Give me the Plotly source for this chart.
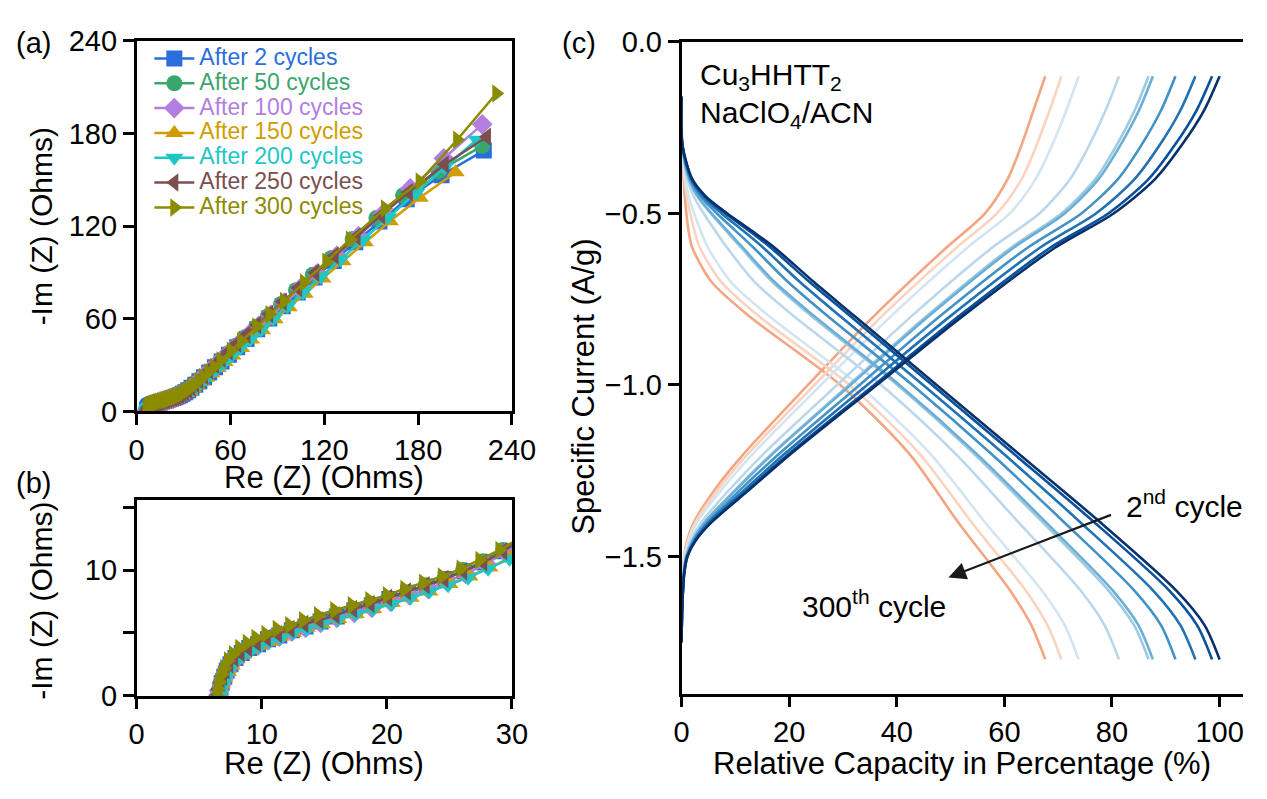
import plotly.graph_objects as go

W, H = 1267, 799
FONT = "Liberation Sans, Arial, sans-serif"

# ---------------- Panels (a)/(b): Nyquist data ----------------
series_names = ["After 2 cycles", "After 50 cycles", "After 100 cycles", "After 150 cycles",
                "After 200 cycles", "After 250 cycles", "After 300 cycles"]
series_colors = ["#2a6edc", "#3ba56e", "#b27ee0", "#cf9d00", "#1ec6c6", "#7b4f4f", "#8b8b00"]
series_symbols = ["square", "circle", "diamond", "triangle-up", "triangle-down", "triangle-left", "triangle-right"]

re_c2 = [6.6, 6.7, 6.8, 7.0, 7.2, 7.5, 7.9, 8.4, 9.0, 9.7, 10.5, 11.4, 12.4, 13.5, 14.7, 16.0, 17.4, 18.8, 20.2, 21.7,
         23.2, 24.7, 26.2, 27.8, 29.4, 31.1, 33.0, 35.1, 37.5, 40.1, 43.1, 46.4, 50.1, 54.3, 59.0, 64.3, 70.3, 77.1, 84.8, 93.4,
         103.0, 113.8, 126.0, 139.8, 155.3, 172.7, 195.0, 222.0]
im_c2 = [0.0, 0.5, 1.0, 1.5, 2.0, 2.5, 3.0, 3.4, 3.8, 4.1, 4.5, 4.8, 5.2, 5.5, 5.9, 6.3, 6.8, 7.2, 7.7, 8.2,
         8.7, 9.3, 9.9, 10.6, 11.5, 12.5, 13.8, 15.4, 17.4, 19.6, 22.2, 25.2, 28.6, 32.4, 36.8, 41.6, 47.0, 53.3, 60.3, 68.2,
         77.0, 86.8, 97.5, 109.6, 123.0, 137.5, 153.0, 169.0]

re_c50 = [6.5, 6.6, 6.7, 6.9, 7.1, 7.4, 7.8, 8.3, 8.9, 9.6, 10.4, 11.3, 12.3, 13.4, 14.6, 15.9, 17.3, 18.7, 20.1, 21.6,
          23.1, 24.6, 26.1, 27.7, 29.3, 31.0, 32.9, 35.0, 37.3, 39.9, 42.8, 46.1, 49.8, 53.9, 58.5, 63.7, 69.6, 76.3, 83.9, 92.4,
          101.9, 112.6, 124.6, 138.1, 153.3, 170.4, 193.0, 221.0]
im_c50 = [0.0, 0.5, 1.0, 1.5, 2.0, 2.5, 3.0, 3.4, 3.8, 4.2, 4.5, 4.9, 5.2, 5.6, 6.0, 6.4, 6.8, 7.3, 7.7, 8.2,
          8.8, 9.3, 10.0, 10.7, 11.6, 12.7, 14.0, 15.7, 17.7, 20.0, 22.7, 25.8, 29.3, 33.2, 37.7, 42.7, 48.3, 54.6, 61.7, 69.7,
          78.6, 88.5, 99.5, 111.7, 125.3, 140.0, 155.5, 172.0]

re_c100 = [6.5, 6.6, 6.8, 7.0, 7.2, 7.5, 7.9, 8.4, 9.0, 9.7, 10.5, 11.4, 12.4, 13.5, 14.7, 16.0, 17.4, 18.8, 20.3, 21.8,
           23.3, 24.8, 26.3, 27.9, 29.5, 31.2, 33.1, 35.2, 37.6, 40.3, 43.3, 46.7, 50.5, 54.8, 59.6, 65.0, 71.1, 78.0, 85.8, 94.6,
           104.5, 115.6, 128.0, 141.9, 157.5, 175.0, 196.5, 221.0]
im_c100 = [0.0, 0.4, 0.9, 1.4, 1.9, 2.4, 2.9, 3.3, 3.7, 4.0, 4.4, 4.7, 5.1, 5.4, 5.8, 6.2, 6.6, 7.0, 7.5, 8.0,
           8.5, 9.1, 9.7, 10.5, 11.4, 12.5, 13.9, 15.7, 17.9, 20.4, 23.2, 26.4, 30.0, 34.0, 38.5, 43.5, 49.1, 55.4, 62.5, 70.5,
           79.5, 89.5, 100.8, 113.5, 128.0, 144.5, 164.0, 186.0]

re_c150 = [6.5, 6.6, 6.8, 7.0, 7.3, 7.6, 8.0, 8.5, 9.1, 9.8, 10.6, 11.5, 12.5, 13.6, 14.8, 16.1, 17.5, 18.9, 20.4, 21.9,
           23.4, 25.0, 26.6, 28.2, 29.9, 31.7, 33.7, 35.9, 38.4, 41.2, 44.3, 47.8, 51.8, 56.2, 61.2, 66.8, 73.1, 80.2, 88.2, 97.2,
           107.4, 118.8, 131.6, 145.9, 161.9, 181.0, 204.0]
im_c150 = [0.0, 0.4, 0.9, 1.4, 1.9, 2.4, 2.9, 3.3, 3.7, 4.0, 4.3, 4.7, 5.0, 5.4, 5.7, 6.1, 6.5, 6.9, 7.4, 7.8,
           8.3, 8.9, 9.5, 10.2, 11.0, 12.0, 13.3, 14.9, 16.9, 19.2, 21.8, 24.8, 28.2, 32.0, 36.3, 41.1, 46.6, 52.7, 59.7, 67.5,
           76.3, 86.2, 97.3, 109.6, 123.2, 138.5, 155.0]

re_c200 = [6.6, 6.7, 6.9, 7.1, 7.3, 7.6, 8.0, 8.5, 9.1, 9.8, 10.6, 11.5, 12.5, 13.6, 14.8, 16.1, 17.5, 18.9, 20.4, 21.9,
           23.4, 24.9, 26.5, 28.1, 29.8, 31.6, 33.6, 35.8, 38.3, 41.1, 44.2, 47.7, 51.6, 56.0, 60.9, 66.4, 72.6, 79.6, 87.5, 96.4,
           106.4, 117.7, 130.4, 144.7, 160.7, 178.7, 197.0, 217.5]
im_c200 = [0.0, 0.4, 0.9, 1.4, 1.9, 2.4, 2.8, 3.2, 3.6, 3.9, 4.3, 4.6, 5.0, 5.3, 5.7, 6.1, 6.5, 6.9, 7.3, 7.8,
           8.3, 8.8, 9.4, 10.1, 10.9, 11.9, 13.1, 14.7, 16.6, 18.9, 21.5, 24.5, 27.9, 31.8, 36.2, 41.1, 46.7, 53.0, 60.1, 68.1,
           77.1, 87.2, 98.5, 111.3, 125.8, 141.5, 158.0, 176.0]

re_c250 = [6.4, 6.5, 6.7, 6.9, 7.1, 7.4, 7.8, 8.3, 8.9, 9.6, 10.4, 11.3, 12.3, 13.4, 14.6, 15.9, 17.3, 18.7, 20.1, 21.6,
           23.1, 24.6, 26.1, 27.7, 29.3, 31.0, 32.9, 35.0, 37.4, 40.0, 43.0, 46.3, 50.0, 54.2, 58.9, 64.2, 70.2, 77.0, 84.7, 93.4,
           103.2, 114.2, 126.6, 140.6, 156.3, 174.0, 197.0, 224.0]
im_c250 = [0.0, 0.5, 1.0, 1.5, 2.0, 2.5, 3.0, 3.4, 3.8, 4.2, 4.6, 4.9, 5.3, 5.7, 6.0, 6.4, 6.9, 7.3, 7.8, 8.3,
           8.8, 9.3, 9.9, 10.6, 11.5, 12.6, 13.9, 15.7, 17.8, 20.3, 23.2, 26.5, 30.2, 34.3, 38.9, 44.0, 49.7, 56.1, 63.2, 71.1,
           80.0, 89.9, 100.9, 113.2, 127.0, 142.0, 160.0, 178.0]

re_c300 = [6.4, 6.5, 6.6, 6.8, 7.0, 7.3, 7.7, 8.2, 8.8, 9.5, 10.3, 11.2, 12.2, 13.3, 14.5, 15.8, 17.2, 18.6, 20.0, 21.4,
           22.9, 24.4, 25.9, 27.4, 29.0, 30.7, 32.6, 34.7, 37.0, 39.6, 42.5, 45.8, 49.4, 53.6, 60.2, 66.8, 76.5, 85.0, 94.2, 107.0,
           121.3, 136.4, 158.8, 181.0, 205.0, 230.0]
im_c300 = [0.0, 0.5, 1.1, 1.7, 2.2, 2.8, 3.3, 3.8, 4.2, 4.6, 4.9, 5.3, 5.6, 6.0, 6.4, 6.8, 7.2, 7.6, 8.0, 8.5,
           9.0, 9.5, 10.1, 10.8, 11.6, 12.6, 13.9, 15.5, 17.4, 19.7, 22.4, 25.5, 28.9, 33.0, 39.4, 45.7, 55.0, 63.0, 71.6, 83.5,
           97.0, 111.3, 131.5, 149.0, 176.0, 206.0]

nyq_re = [re_c2, re_c50, re_c100, re_c150, re_c200, re_c250, re_c300]
nyq_im = [im_c2, im_c50, im_c100, im_c150, im_c200, im_c250, im_c300]
for a_, b_ in zip(nyq_re, nyq_im):
    assert len(a_) == len(b_), (len(a_), len(b_))

# ---------------- Panel (c): capacity curves ----------------
curve_colors = ["#08306b", "#08519c", "#2171b5", "#4292c6", "#6baed6", "#9ecae1",
                "#bcd7ec", "#d4e5f2", "#fbd3c0", "#f4a582"]

dis_v = [-0.16, -0.3, -0.4, -0.45, -0.5, -0.55, -0.6, -0.7, -0.8, -1.0, -1.2, -1.4, -1.6, -1.7, -1.8]
dis_c01 = [0, 0.15, 2.0, 4.5, 8.5, 13.0, 17.3, 24.6, 32.2, 47.4, 62.6, 77.8, 92.0, 97.2, 100]
dis_c02 = [0, 0.15, 1.93, 4.33, 8.17, 12.5, 16.6, 23.8, 31.4, 46.6, 61.7, 76.7, 90.7, 95.8, 98.6]
dis_c03 = [0, 0.14, 1.78, 3.96, 7.44, 11.4, 15.2, 22.0, 29.5, 44.9, 59.8, 74.1, 87.7, 92.7, 95.5]
dis_c04 = [0, 0.14, 1.6, 3.51, 6.58, 10.0, 13.4, 19.8, 27.2, 42.9, 57.5, 71.1, 84.2, 89.1, 91.8]
dis_c05 = [0, 0.13, 1.39, 3.01, 5.59, 8.5, 11.4, 17.3, 24.7, 40.5, 54.8, 67.7, 80.2, 84.9, 87.6]
dis_c06 = [0, 0.13, 1.35, 2.91, 5.41, 8.24, 11.07, 16.9, 24.2, 40.1, 54.3, 67.1, 79.4, 84.1, 86.8]
dis_c07 = [0, 0.12, 1.08, 2.25, 4.11, 6.25, 8.47, 13.6, 20.9, 37.1, 50.9, 62.6, 74.2, 78.6, 81.3]
dis_c08 = [0, 0.11, 0.71, 1.34, 2.35, 3.53, 4.92, 9.2, 16.3, 32.9, 46.2, 56.4, 67.0, 71.2, 73.8]
dis_c09 = [0, 0.1, 0.55, 0.96, 1.61, 2.39, 3.42, 7.4, 14.4, 31.2, 44.2, 53.9, 64.0, 68.0, 70.6]
dis_c10 = [0, 0.1, 0.4, 0.6, 0.9, 1.3, 2.0, 5.6, 12.6, 29.5, 42.3, 51.4, 61.1, 65.0, 67.6]

chg_v = [-1.75, -1.65, -1.55, -1.5, -1.45, -1.4, -1.3, -1.2, -1.0, -0.8, -0.6, -0.5, -0.4, -0.3, -0.2, -0.1]
chg_c01 = [0, 0.12, 0.5, 1.1, 2.8, 5.6, 13.0, 20.4, 36.3, 52.2, 69.4, 80.3, 88.0, 93.0, 97.1, 100]
chg_c02 = [0, 0.12, 0.49, 1.07, 2.7, 5.5, 12.7, 20.0, 35.8, 51.5, 68.5, 79.3, 86.8, 91.7, 95.7, 98.6]
chg_c03 = [0, 0.12, 0.47, 1.02, 2.56, 5.1, 12.1, 19.2, 34.5, 49.9, 66.6, 77.0, 84.2, 88.9, 92.7, 95.5]
chg_c04 = [0, 0.11, 0.44, 0.95, 2.37, 4.8, 11.3, 18.2, 33.1, 48.0, 64.3, 74.3, 81.1, 85.5, 89.1, 91.8]
chg_c05 = [0, 0.11, 0.42, 0.87, 2.15, 4.3, 10.5, 17.0, 31.4, 45.9, 61.7, 71.2, 77.5, 81.6, 85.0, 87.6]
chg_c06 = [0, 0.11, 0.41, 0.86, 2.11, 4.3, 10.3, 16.8, 31.1, 45.5, 61.2, 70.6, 76.9, 80.9, 84.2, 86.8]
chg_c07 = [0, 0.1, 0.37, 0.75, 1.82, 3.7, 9.2, 15.3, 28.9, 42.7, 57.7, 66.5, 72.2, 75.8, 78.8, 81.3]
chg_c08 = [0, 0.1, 0.32, 0.61, 1.42, 2.9, 7.7, 13.3, 25.9, 38.9, 53.1, 61.0, 65.8, 68.9, 71.5, 73.8]
chg_c09 = [0, 0.09, 0.3, 0.56, 1.26, 2.6, 7.0, 12.4, 24.7, 37.2, 51.1, 58.6, 63.2, 66.0, 68.4, 70.6]
chg_c10 = [0, 0.09, 0.28, 0.5, 1.1, 2.3, 6.4, 11.6, 23.5, 35.7, 49.2, 56.4, 60.6, 63.2, 65.4, 67.6]

dis_all = [dis_c01, dis_c02, dis_c03, dis_c04, dis_c05, dis_c06, dis_c07, dis_c08, dis_c09, dis_c10]
chg_all = [chg_c01, chg_c02, chg_c03, chg_c04, chg_c05, chg_c06, chg_c07, chg_c08, chg_c09, chg_c10]
for d_ in dis_all:
    assert len(d_) == len(dis_v)
for c_ in chg_all:
    assert len(c_) == len(chg_v)

# tick labels
a_ticks = [0, 60, 120, 180, 240]
b_xticks = [0, 10, 20, 30]
b_yticks = [0, 5, 10, 15]
b_yticktext = ["0", "", "10", ""]
c_xticks = [0, 20, 40, 60, 80, 100]
c_yticks = [0.0, -0.5, -1.0, -1.5]

fig = go.Figure()

MS = 16
for i in range(7):
    name = '<span style="color:%s;font-size:23px">%s</span>' % (series_colors[i], series_names[i])
    common = dict(mode="lines+markers",
                  line=dict(color=series_colors[i], width=2.5),
                  marker=dict(symbol=series_symbols[i], size=MS, color=series_colors[i]))
    fig.add_trace(go.Scatter(x=nyq_re[i], y=nyq_im[i], name=name, xaxis="x", yaxis="y",
                             showlegend=True, **common))
for i in range(7):
    common = dict(mode="lines+markers",
                  line=dict(color=series_colors[i], width=2.5),
                  marker=dict(symbol=series_symbols[i], size=MS, color=series_colors[i]))
    fig.add_trace(go.Scatter(x=nyq_re[i], y=nyq_im[i], xaxis="x2", yaxis="y2",
                             showlegend=False, **common))

for i in reversed(range(10)):
    for xs, vs in ((dis_all[i], dis_v), (chg_all[i], chg_v)):
        fig.add_trace(go.Scatter(x=xs, y=vs, mode="lines", xaxis="x3", yaxis="y3", showlegend=False,
                                 line=dict(color=curve_colors[i], width=2.6, shape="spline", smoothing=0.8)))

def px_x(p):
    return p / W

def px_y(p):
    return 1 - p / H

axis_common = dict(showline=True, linecolor="black", linewidth=2.5, ticks="outside", ticklen=11,
                   tickwidth=2.5, tickcolor="black", showgrid=False, zeroline=False,
                   tickfont=dict(size=29, color="black", family=FONT))

fig.update_layout(
    width=W, height=H, margin=dict(l=0, r=0, t=0, b=0),
    paper_bgcolor="white", plot_bgcolor="white",
    font=dict(family=FONT, color="black"),
    xaxis=dict(domain=[px_x(132), px_x(517)], range=[0, 240], tickvals=a_ticks, anchor="y", mirror=True,
               **axis_common),
    yaxis=dict(domain=[px_y(412), px_y(26)], range=[0, 240], tickvals=a_ticks, anchor="x", mirror=True,
               **axis_common),
    xaxis2=dict(domain=[px_x(132), px_x(517)], range=[0, 30], tickvals=b_xticks, anchor="y2", mirror=True,
                **axis_common),
    yaxis2=dict(domain=[px_y(708), px_y(504)], range=[0, 15.6], tickvals=b_yticks, ticktext=b_yticktext,
                anchor="x2", mirror=True, **axis_common),
    xaxis3=dict(domain=[px_x(691), 1.0], range=[0, 104.35], tickvals=c_xticks, anchor="y3", mirror=True,
                **axis_common),
    yaxis3=dict(domain=[px_y(706), px_y(27)], range=[-1.9, 0], tickvals=c_yticks, tickformat=".1f",
                anchor="x3", mirror=False, **axis_common),
    legend=dict(x=px_x(145), y=px_y(26), xanchor="left", yanchor="top", bgcolor="rgba(0,0,0,0)",
                font=dict(size=16.8, family=FONT), itemwidth=40, tracegroupgap=0),
)

title_font = dict(size=31, color="black", family=FONT)
ann_font = dict(size=30, color="black", family=FONT)
lab_font = dict(size=29, color="black", family=FONT)
annotations = [
    # axis titles
    dict(text="Re (Z) (Ohms)", x=px_x(324.5), y=px_y(481), xanchor="center", yanchor="middle", font=title_font),
    dict(text="Re (Z) (Ohms)", x=px_x(324.5), y=px_y(779), xanchor="center", yanchor="middle", font=title_font),
    dict(text="Relative Capacity in Percentage (%)", x=px_x(979), y=px_y(779), xanchor="center", yanchor="middle",
         font=title_font),
    dict(text="-Im (Z) (Ohms)", x=px_x(34), y=px_y(219), xanchor="center", yanchor="middle", textangle=-90,
         font=dict(size=30, color="black", family=FONT)),
    dict(text="-Im (Z) (Ohms)", x=px_x(34), y=px_y(609), xanchor="center", yanchor="middle", textangle=-90,
         font=dict(size=30, color="black", family=FONT)),
    dict(text="Specific Current (A/g)", x=px_x(590), y=px_y(386), xanchor="center", yanchor="middle", textangle=-90,
         font=title_font),
    # panel labels
    dict(text="(a)", x=px_x(6), y=px_y(28), xanchor="left", yanchor="middle", font=lab_font),
    dict(text="(b)", x=px_x(6), y=px_y(487), xanchor="left", yanchor="middle", font=lab_font),
    dict(text="(c)", x=px_x(566), y=px_y(28), xanchor="left", yanchor="middle", font=lab_font),
    # inner texts
    dict(text="Cu<sub>3</sub>HHTT<sub>2</sub>", x=px_x(708), y=px_y(63), xanchor="left", yanchor="middle", font=ann_font),
    dict(text="NaClO<sub>4</sub>/ACN", x=px_x(708), y=px_y(103), xanchor="left", yanchor="middle", font=ann_font),
    dict(text="2<sup>nd</sup> cycle", x=px_x(1145), y=px_y(508), xanchor="left", yanchor="middle", font=ann_font),
    dict(text="300<sup>th</sup> cycle", x=px_x(813), y=px_y(613), xanchor="left", yanchor="middle", font=ann_font),
]
for a in annotations:
    a.update(xref="paper", yref="paper", showarrow=False)
    fig.add_annotation(**a)

# arrow from "2nd cycle" toward "300th cycle"
fig.add_annotation(x=49.6, y=-1.561, xref="x3", yref="y3", ax=80.1, ay=-1.377, axref="x3", ayref="y3",
                   text="", showarrow=True, arrowhead=2, arrowsize=1.6, arrowwidth=2.2, arrowcolor="#1a1a1a")

fig.write_html("out.html")
